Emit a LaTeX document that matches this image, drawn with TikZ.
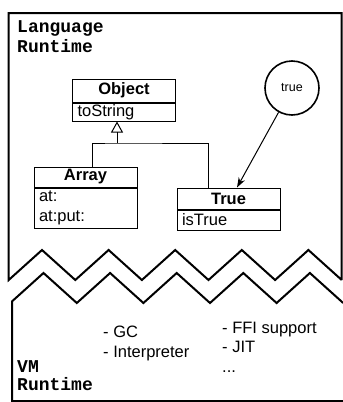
\documentclass[tikz,border=0pt]{standalone}
\usepackage{fontspec}
\setsansfont{Liberation Sans}
\setmonofont{Liberation Mono}
\usetikzlibrary{positioning,arrows.meta}

\tikzset{
  frame/.style={line width=2pt},
  cname/.style={draw,line width=1pt,minimum width=103pt,minimum height=21pt,inner sep=0pt,
    font=\sffamily\bfseries\fontsize{16.5}{20}\selectfont},
  cbody/.style={draw,line width=1pt,text width=93pt,inner xsep=5pt,inner ysep=0pt,
    minimum height=20pt,align=left,font=\sffamily\fontsize{16.5}{20}\selectfont},
  rtlabel/.style={anchor=base west,inner sep=0pt,align=left,
    font=\ttfamily\bfseries\fontsize{18}{20}\selectfont},
  notes/.style={anchor=base west,inner sep=0pt,align=left,
    font=\sffamily\fontsize{16.5}{19.5}\selectfont}
}

\begin{document}
\begin{tikzpicture}[x=1pt,y=-1pt]
  \useasboundingbox (0,0) rectangle (343,402);

  % language runtime
  \draw[frame] (341.7,280) -- (341.7,13) -- (8.7,13) -- (8.7,280)
    \foreach \k in {0,...,4} { -- ({42+66.6*\k},250) -- ({75.3+66.6*\k},280) };
  \node[rtlabel] (lang) at (17,52) {Language\\Runtime};

  % vm runtime
  \draw[frame] (346,401) -- (12,401) -- (12,301.4)
    \foreach \k in {0,...,4} { -- ({43.5+66.6*\k},273) -- ({76.8+66.6*\k},303) };
  \node[rtlabel,font=\ttfamily\bfseries\fontsize{18}{18}\selectfont] (vm) at (17,390) {VM\\Runtime};
  \node[notes] (vmA) at (103,357) {- GC\\- Interpreter};
  \node[notes] (vmB) at (222,372) {- FFI support\\- JIT\\...};

  % classes
  \node[cname,minimum height=23pt] (obj) at (124,90.5) {Object};
  \node[cbody,minimum height=18pt,below=0pt of obj] (objm) {toString};
  \node[cname,minimum height=20pt] (arr) at (85.5,177) {Array};
  \node[cbody,minimum height=40pt,below=0pt of arr] (arrm) {at:\\at:put:};
  \node[cname] (tru) at (228.5,198.5) {True};
  \node[cbody,below=0pt of tru] (trum) {isTrue};

  \coordinate (fork) at (117,143);
  \draw[line width=1pt] ([xshift=6.5pt]arr.north) |- (fork) -| ([xshift=-20.5pt]tru.north);
  \draw[line width=1pt,-{Triangle[open,length=11pt,width=12pt]}] (fork) -- (fork |- objm.south);

  % instance
  \node[circle,draw,line width=1.6pt,minimum size=54pt,inner sep=0pt,
    font=\sffamily\fontsize{12.5}{14}\selectfont] (truobj) at (292,88) {true};
  \draw[line width=1pt,-{Stealth[length=10pt,width=7pt]}] (truobj) -- ([xshift=8.5pt]tru.north);

\end{tikzpicture}
\end{document}
